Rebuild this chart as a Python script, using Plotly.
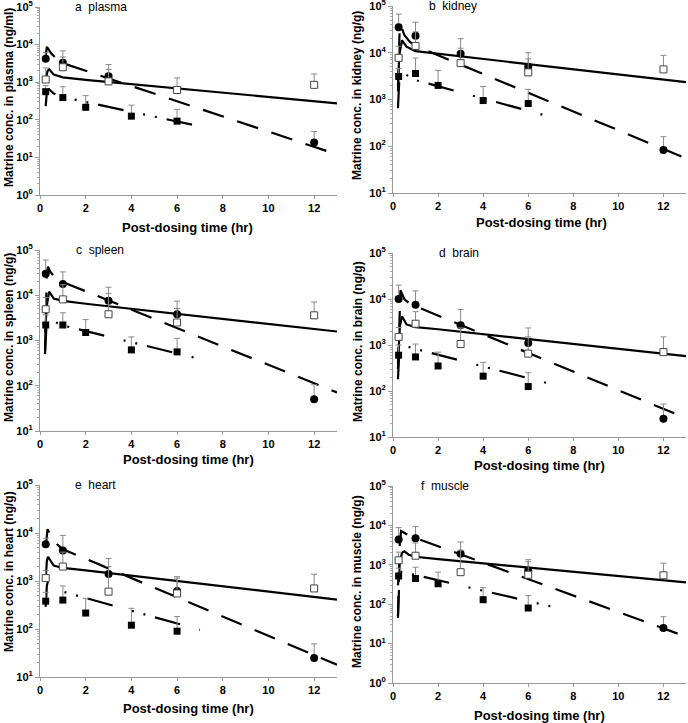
import plotly.graph_objects as go

# sampling times (hr)
t_high = [0.25, 1, 3, 6, 12]
t_mid = [0.25, 1, 3, 6, 12]
t_low = [0.25, 1, 2, 4, 6]

# measured means and upper SD (ng/ml or ng/g)
plasma_high = [4200, 3300, 1450, None, 25]
plasma_high_err = [2000, 3500, 1500, None, 24]
plasma_mid = [1180, 2500, 1050, 620, 850]
plasma_mid_err = [1220, 2200, 1150, 680, 800]
plasma_low = [560, 390, 215, 125, 92]
plasma_low_err = [250, 370, 225, 120, 98]

kidney_high = [35000, 23000, 9500, 5000, 83]
kidney_high_err = [32000, 22000, 10500, 5000, 77]
kidney_mid = [7800, 14000, 6000, 3800, 4400]
kidney_mid_err = [6000, 14000, 6500, 3600, 4400]
kidney_low = [3100, 3600, 2000, 950, 820]
kidney_low_err = [1500, 4100, 2200, 950, 830]

spleen_high = [30000, 17800, 7600, 3800, 50]
spleen_high_err = [30000, 15000, 7400, 3600, 55]
spleen_mid = [4900, 8100, 3800, 2500, 3600]
spleen_mid_err = [4000, 9000, 7200, 2600, 3500]
spleen_low = [2200, 2200, 1500, 620, 560]
spleen_low_err = [1500, 1900, 1400, 580, 560]

brain_high = [10000, 7500, 2700, 1100, 25]
brain_high_err = [10000, 7500, 3200, 1250, 27]
brain_mid = [1500, 2900, 1050, 650, 700]
brain_mid_err = [900, 2400, 1300, 850, 800]
brain_low = [600, 550, 350, 210, 125]
brain_low_err = [400, 500, 350, 210, 125]

heart_high = [5800, 4300, 1400, 620, 25]
heart_high_err = [2000, 4600, 1550, 610, 24]
heart_mid = [1150, 2000, 600, 550, 700]
heart_mid_err = [500, 2000, 1400, 600, 680]
heart_low = [380, 400, 215, 120, 90]
heart_low_err = [200, 390, 220, 150, 92]

muscle_high = [4400, 4700, 1900, 720, 25]
muscle_high_err = [4400, 4600, 1900, 630, 23]
muscle_mid = [1300, 1700, 650, 560, 540]
muscle_mid_err = [800, 1900, 1700, 640, 560]
muscle_low = [520, 450, 330, 130, 80]
muscle_low_err = [300, 420, 320, 133, 85]

# fitted model curves
plasma_fit_high_t = [0.25, 0.3, 0.5, 0.75, 1, 13]
plasma_fit_high = [5000, 8700, 5800, 4000, 3200, 12]
plasma_fit_mid_t = [0.25, 0.33, 0.4, 0.6, 1, 2, 13]
plasma_fit_mid = [1100, 2000, 2200, 1600, 1350, 1150, 275]
plasma_fit_low_t = [0.25, 0.3, 0.4, 0.6, 1, 7]
plasma_fit_low = [230, 550, 650, 500, 400, 67]

kidney_fit_high_t = [0.22, 0.3, 0.35, 0.5, 0.75, 1, 13]
kidney_fit_high = [1500, 40000, 38000, 24000, 17000, 14000, 55]
kidney_fit_mid_t = [0.22, 0.28, 0.4, 0.6, 1, 2, 13]
kidney_fit_mid = [2000, 9000, 18500, 13500, 10800, 9500, 2350]
kidney_fit_low_t = [0.22, 0.3, 0.4, 1, 7]
kidney_fit_low = [650, 4200, 3800, 2600, 425]

spleen_fit_high_t = [0.22, 0.3, 0.35, 0.45, 0.75, 13]
spleen_fit_high = [600, 30000, 43000, 33000, 22000, 71]
spleen_fit_mid_t = [0.22, 0.3, 0.4, 0.6, 1, 2, 13]
spleen_fit_mid = [1500, 6000, 12000, 8500, 7500, 6500, 1580]
spleen_fit_low_t = [0.22, 0.3, 0.4, 1, 7]
spleen_fit_low = [500, 3100, 2900, 2150, 390]

brain_fit_high_t = [0.22, 0.33, 0.4, 0.5, 0.75, 13]
brain_fit_high = [300, 15500, 13000, 10000, 7800, 25.6]
brain_fit_mid_t = [0.22, 0.3, 0.4, 0.6, 1, 2, 13]
brain_fit_mid = [400, 2500, 4200, 2800, 2450, 2200, 570]
brain_fit_low_t = [0.22, 0.3, 0.4, 1, 7]
brain_fit_low = [180, 1100, 1000, 820, 142]

heart_fit_high_t = [0.25, 0.3, 0.33, 0.5, 0.75, 1, 13]
heart_fit_high = [5000, 11000, 12000, 8000, 5800, 4600, 18]
heart_fit_mid_t = [0.25, 0.3, 0.35, 0.6, 1, 2, 13]
heart_fit_mid = [1100, 2600, 3200, 2100, 1870, 1660, 410]
heart_fit_low_t = [0.25, 0.3, 0.35, 0.6, 1, 7]
heart_fit_low = [290, 800, 1000, 780, 600, 96]

muscle_fit_high_t = [0.22, 0.3, 0.36, 0.5, 0.75, 13]
muscle_fit_high = [45, 3500, 7200, 6400, 5400, 15]
muscle_fit_mid_t = [0.22, 0.3, 0.4, 0.5, 0.7, 1, 2, 13]
muscle_fit_mid = [300, 1200, 2000, 2200, 1800, 1600, 1400, 360]
muscle_fit_low_t = [0.22, 0.3, 0.4, 1, 7]
muscle_fit_low = [50, 700, 650, 550, 88]

x_ticks = [0, 2, 4, 6, 8, 10, 12]

W, H = 688, 723
FONT = "Liberation Sans, Arial, sans-serif"

panels = [
    dict(tissue="plasma", letter="a", unit="ng/ml", ymin=0, box=(40, 337, 7, 195), lab=0.111,
         ytit=(9, 98), xtit=(187, 227),
         high=plasma_high, high_err=plasma_high_err, mid=plasma_mid, mid_err=plasma_mid_err,
         low=plasma_low, low_err=plasma_low_err,
         fits=[(plasma_fit_high_t, plasma_fit_high), (plasma_fit_mid_t, plasma_fit_mid),
               (plasma_fit_low_t, plasma_fit_low)]),
    dict(tissue="kidney", letter="b", unit="ng/g", ymin=1, box=(393, 686, 6, 193), lab=0.116,
         ytit=(357, 96), xtit=(541, 222),
         high=kidney_high, high_err=kidney_high_err, mid=kidney_mid, mid_err=kidney_mid_err,
         low=kidney_low, low_err=kidney_low_err,
         fits=[(kidney_fit_high_t, kidney_fit_high), (kidney_fit_mid_t, kidney_fit_mid),
               (kidney_fit_low_t, kidney_fit_low)]),
    dict(tissue="spleen", letter="c", unit="ng/g", ymin=1, box=(40, 337, 250, 431), lab=0.114,
         ytit=(9, 338), xtit=(188, 460),
         high=spleen_high, high_err=spleen_high_err, mid=spleen_mid, mid_err=spleen_mid_err,
         low=spleen_low, low_err=spleen_low_err,
         fits=[(spleen_fit_high_t, spleen_fit_high), (spleen_fit_mid_t, spleen_fit_mid),
               (spleen_fit_low_t, spleen_fit_low)]),
    dict(tissue="brain", letter="d", unit="ng/g", ymin=1, box=(393, 686, 253, 437), lab=0.15,
         ytit=(358, 342), xtit=(539, 465),
         high=brain_high, high_err=brain_high_err, mid=brain_mid, mid_err=brain_mid_err,
         low=brain_low, low_err=brain_low_err,
         fits=[(brain_fit_high_t, brain_fit_high), (brain_fit_mid_t, brain_fit_mid),
               (brain_fit_low_t, brain_fit_low)]),
    dict(tissue="heart", letter="e", unit="ng/g", ymin=1, box=(40, 337, 485, 677), lab=0.111,
         ytit=(9, 572), xtit=(188, 708),
         high=heart_high, high_err=heart_high_err, mid=heart_mid, mid_err=heart_mid_err,
         low=heart_low, low_err=heart_low_err,
         fits=[(heart_fit_high_t, heart_fit_high), (heart_fit_mid_t, heart_fit_mid),
               (heart_fit_low_t, heart_fit_low)]),
    dict(tissue="muscle", letter="f", unit="ng/g", ymin=0, box=(393, 686, 486, 683), lab=0.089,
         ytit=(357, 582), xtit=(539, 715),
         high=muscle_high, high_err=muscle_high_err, mid=muscle_mid, mid_err=muscle_mid_err,
         low=muscle_low, low_err=muscle_low_err,
         fits=[(muscle_fit_high_t, muscle_fit_high), (muscle_fit_mid_t, muscle_fit_mid),
               (muscle_fit_low_t, muscle_fit_low)]),
]

line_styles = [
    dict(color="black", width=2.2, dash="22px,14px"),
    dict(color="black", width=2.2),
    dict(color="black", width=2.2, dash="26px,20px,2px,10px,2px,10px"),
]

fig = go.Figure()
layout = dict(width=W, height=H, margin=dict(l=0, r=0, t=0, b=0),
              paper_bgcolor="white", plot_bgcolor="white", showlegend=False,
              font=dict(family=FONT, color="black"))
annotations = []

for i, p in enumerate(panels, start=1):
    xa = "x" if i == 1 else f"x{i}"
    ya = "y" if i == 1 else f"y{i}"
    l, r, t, b = p["box"]

    for (ft, fv), st in zip(p["fits"], line_styles):
        fig.add_trace(go.Scatter(x=ft, y=fv, mode="lines", line=st, xaxis=xa, yaxis=ya,
                                 hoverinfo="skip"))

    err_style = dict(type="data", symmetric=False, color="#8a8a8a", thickness=1, width=3)
    fig.add_trace(go.Scatter(
        x=t_low, y=p["low"], mode="markers", xaxis=xa, yaxis=ya,
        marker=dict(symbol="square", size=7, color="black"),
        error_y=dict(array=p["low_err"], arrayminus=[0] * 5, **err_style)))
    fig.add_trace(go.Scatter(
        x=t_high, y=p["high"], mode="markers", xaxis=xa, yaxis=ya,
        marker=dict(symbol="circle", size=8, color="black"),
        error_y=dict(array=p["high_err"], arrayminus=[0] * 5, **err_style)))
    fig.add_trace(go.Scatter(
        x=t_mid, y=p["mid"], mode="markers", xaxis=xa, yaxis=ya,
        marker=dict(symbol="square", size=7, color="white", line=dict(color="#444", width=1)),
        error_y=dict(array=p["mid_err"], arrayminus=[0] * 5, **err_style)))

    exps = list(range(p["ymin"], 6))
    layout["xaxis" if i == 1 else f"xaxis{i}"] = dict(
        domain=[l / W, r / W], anchor=ya, range=[0, 13], tickvals=x_ticks, automargin=False,
        ticks="outside", ticklen=3, tickcolor="#999", showline=True, linecolor="#999",
        linewidth=1, showgrid=False, zeroline=False, ticklabeloverflow="allow",
        tickfont=dict(family=FONT, size=11, color="black", weight="bold"))
    layout["yaxis" if i == 1 else f"yaxis{i}"] = dict(
        domain=[1 - b / H, 1 - t / H], anchor=xa, type="log", range=[p["ymin"], 5],
        tickvals=[10 ** k for k in exps], ticktext=[f"10<sup>{k}</sup>" for k in exps],
        automargin=False, ticklabeloverflow="allow",
        ticks="outside", ticklen=4, tickcolor="#999", showline=True, linecolor="#999",
        linewidth=1, showgrid=False, zeroline=False,
        minor=dict(ticks="outside", ticklen=2, tickcolor="#aaa", dtick="D1", showgrid=False),
        tickfont=dict(family=FONT, size=11, color="black", weight="bold"))

    annotations.append(dict(
        text=f"{p['letter']}\u00a0\u00a0{p['tissue']}", xref=f"{xa} domain", yref=f"{ya} domain",
        x=p["lab"], y=1, xanchor="left", yanchor="middle", showarrow=False,
        font=dict(family=FONT, size=12, color="black")))
    annotations.append(dict(
        text=f"<b>Matrine conc. in {p['tissue']} ({p['unit']})</b>", xref="paper", yref="paper",
        x=p["ytit"][0] / W, y=1 - p["ytit"][1] / H, textangle=-90, showarrow=False,
        xanchor="center", yanchor="middle", font=dict(family=FONT, size=12, color="black")))
    annotations.append(dict(
        text="<b>Post-dosing time (hr)</b>", xref="paper", yref="paper",
        x=p["xtit"][0] / W, y=1 - p["xtit"][1] / H, showarrow=False,
        xanchor="center", yanchor="middle", font=dict(family=FONT, size=13, color="black")))

layout["annotations"] = annotations
fig.update_layout(**layout)
fig.write_html("out.html", config={"displayModeBar": False},
               post_script="document.body.style.margin = '0px';")
